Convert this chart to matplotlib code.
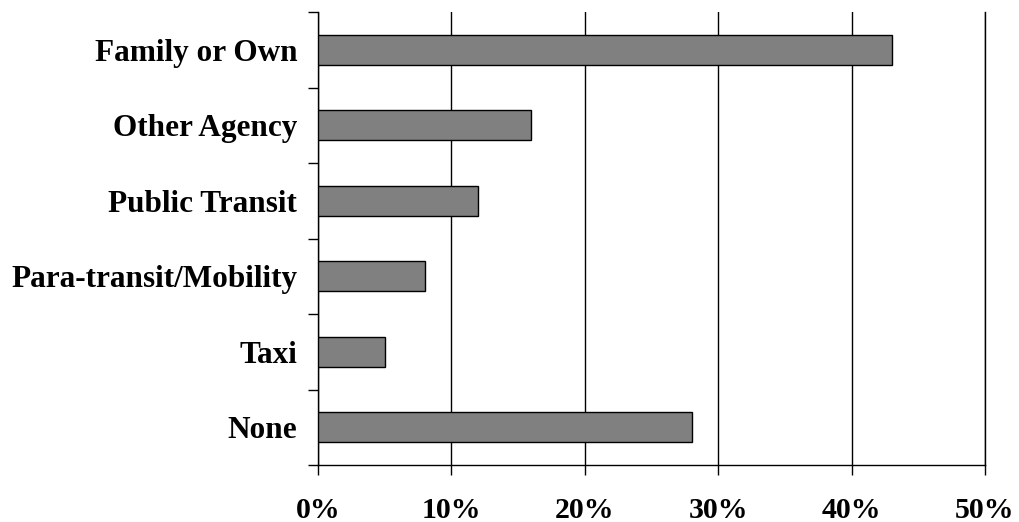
import numpy as np
import matplotlib.pyplot as plt
from matplotlib.ticker import FixedLocator, PercentFormatter

categories = ['Family or Own', 'Other Agency', 'Public Transit',
              'Para-transit/Mobility', 'Taxi', 'None']
shares = [43, 16, 12, 8, 5, 28]
xticks = [0, 10, 20, 30, 40, 50]

plt.rcParams['font.family'] = 'Liberation Serif'
plt.rcParams['font.weight'] = 'bold'

fig = plt.figure(figsize=(10.19, 5.22), dpi=100)
ax = fig.add_axes([318 / 1019, 1 - 465 / 522, 667 / 1019, 453 / 522])

y = np.arange(len(categories))
ax.barh(y, shares, height=0.4, color='#808080', edgecolor='black',
        linewidth=1, zorder=3)

ax.set_xlim(0, 50)
ax.set_ylim(len(categories) - 0.5, -0.5)
ax.set_xticks(xticks)
ax.xaxis.set_major_formatter(PercentFormatter(decimals=0))
ax.grid(axis='x', color='black', linewidth=1, zorder=0)

# category labels centred on the bars, ticks on the band edges
ax.set_yticks(y)
ax.set_yticklabels(categories)
ax.yaxis.set_minor_locator(FixedLocator(np.arange(-0.5, len(categories), 1)))
ax.tick_params(axis='y', which='major', length=0, pad=15, labelsize=22.5)
ax.tick_params(axis='y', which='minor', length=7, width=1, direction='out')
ax.tick_params(axis='x', length=7, width=1, direction='out', pad=16,
               labelsize=21.5)

ax.spines['top'].set_visible(False)
for side in ('left', 'bottom', 'right'):
    ax.spines[side].set_linewidth(1)

fig.savefig('out.png', dpi=100)
